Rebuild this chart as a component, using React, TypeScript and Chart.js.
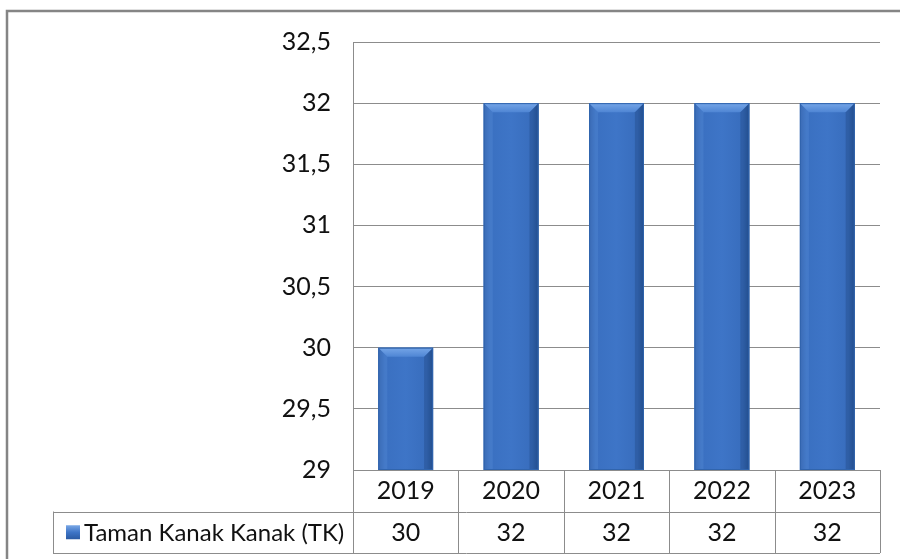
import React, { useEffect, useRef } from "react";
import { Chart, registerables } from "chart.js";

Chart.register(...registerables);

const categories = ["2019", "2020", "2021", "2022", "2023"];
const seriesName = "Taman Kanak Kanak (TK)";
const seriesValues = [30, 32, 32, 32, 32];
const tableLabels = ["30", "32", "32", "32", "32"];
const yMin = 29;
const yMax = 32.5;
const yStep = 0.5;

const FONT = "Lato, 'Open Sans', sans-serif";
const FONT_SIZE = 25;
const GRID = "#8c8c8c";

const fmt = (v: number) => String(v).replace(".", ",");

const tablePlugin = {
  id: "dataTable",
  beforeDraw(chart: any) {
    const { ctx, width, height } = chart;
    ctx.save();
    ctx.fillStyle = "#ffffff";
    ctx.fillRect(0, 0, width, height);
    ctx.strokeStyle = "#858585";
    ctx.lineWidth = 2.5;
    ctx.beginPath();
    ctx.moveTo(7, height);
    ctx.lineTo(7, 11);
    ctx.lineTo(width, 11);
    ctx.stroke();
    ctx.restore();
  },
  afterDatasetsDraw(chart: any) {
    const { ctx, chartArea } = chart;
    const meta = chart.getDatasetMeta(0);
    ctx.save();
    ctx.beginPath();
    ctx.rect(chartArea.left, chartArea.top, chartArea.right - chartArea.left, chartArea.bottom - chartArea.top);
    ctx.clip();
    meta.data.forEach((el: any) => {
      const { x, y, width } = el.getProps(["x", "y", "base", "width"], true);
      const base = chartArea.bottom;
      const l = x - width / 2;
      const r = x + width / 2;
      const h = base - y;
      const g = ctx.createLinearGradient(l, 0, r, 0);
      g.addColorStop(0, "#2a5aa3");
      g.addColorStop(0.12, "#3a70c1");
      g.addColorStop(0.5, "#3e75c7");
      g.addColorStop(0.88, "#386dbd");
      g.addColorStop(1, "#28579c");
      ctx.fillStyle = g;
      ctx.fillRect(l, y, width, h);
      const b = Math.min(9, h / 2);
      const tg = ctx.createLinearGradient(0, y, 0, y + b);
      tg.addColorStop(0, "#76a6e8");
      tg.addColorStop(1, "#4f86d4");
      ctx.fillStyle = tg;
      ctx.beginPath();
      ctx.moveTo(l, y);
      ctx.lineTo(r, y);
      ctx.lineTo(r - b, y + b);
      ctx.lineTo(l + b, y + b);
      ctx.closePath();
      ctx.fill();
      ctx.fillStyle = "rgba(90,140,215,0.35)";
      ctx.beginPath();
      ctx.moveTo(l, y);
      ctx.lineTo(l + b, y + b);
      ctx.lineTo(l + b, base);
      ctx.lineTo(l, base);
      ctx.closePath();
      ctx.fill();
      ctx.fillStyle = "rgba(20,50,100,0.25)";
      ctx.beginPath();
      ctx.moveTo(r, y);
      ctx.lineTo(r - b, y + b);
      ctx.lineTo(r - b, base);
      ctx.lineTo(r, base);
      ctx.closePath();
      ctx.fill();
      ctx.strokeStyle = "#3064ad";
      ctx.lineWidth = 1;
      ctx.strokeRect(l + 0.5, y + 0.5, width - 1, h - 1);
    });
    ctx.restore();
  },
  afterDraw(chart: any) {
    const { ctx, chartArea } = chart;
    const xs = chart.scales.x;
    const top = chartArea.bottom;
    const rowH = 41.5;
    const mid = top + rowH;
    const bot = top + rowH * 2;
    const legendLeft = 53;
    const left = chartArea.left;
    const right = chartArea.right;
    ctx.save();
    ctx.strokeStyle = GRID;
    ctx.lineWidth = 1;
    ctx.beginPath();
    ctx.moveTo(left, Math.round(top) + 0.5);
    ctx.lineTo(right, Math.round(top) + 0.5);
    ctx.moveTo(legendLeft, Math.round(mid) + 0.5);
    ctx.lineTo(right, Math.round(mid) + 0.5);
    ctx.moveTo(legendLeft, Math.round(bot) + 0.5);
    ctx.lineTo(right, Math.round(bot) + 0.5);
    ctx.moveTo(legendLeft + 0.5, mid);
    ctx.lineTo(legendLeft + 0.5, bot);
    const n = categories.length;
    const colW = (right - left) / n;
    for (let i = 0; i <= n; i++) {
      const cx = Math.round(left + colW * i) + 0.5;
      ctx.moveTo(cx, top);
      ctx.lineTo(cx, bot);
    }
    ctx.stroke();

    ctx.fillStyle = "#111111";
    ctx.font = `${FONT_SIZE}px ${FONT}`;
    ctx.textAlign = "center";
    ctx.textBaseline = "middle";
    tableLabels.forEach((t, i) => {
      ctx.fillText(t, xs.getPixelForValue(i), (mid + bot) / 2 + 1);
    });

    // legend key
    const kx = 66, ky = (mid + bot) / 2 - 7, ks = 14;
    const kg = ctx.createLinearGradient(0, ky, 0, ky + ks);
    kg.addColorStop(0, "#7aa8e6");
    kg.addColorStop(0.5, "#3e75c7");
    kg.addColorStop(1, "#2a5aa3");
    ctx.fillStyle = kg;
    ctx.fillRect(kx, ky, ks, ks);
    ctx.fillStyle = "#111111";
    ctx.textAlign = "left";
    let fs = FONT_SIZE;
    const maxW = left - 84 - 4;
    ctx.font = `${fs}px ${FONT}`;
    while (ctx.measureText(seriesName).width > maxW && fs > 10) {
      fs -= 0.5;
      ctx.font = `${fs}px ${FONT}`;
    }
    ctx.fillText(seriesName, 84, (mid + bot) / 2 + 1);
    ctx.restore();
  },
};

export default function App() {
  const ref = useRef<HTMLCanvasElement | null>(null);
  useEffect(() => {
    if (!ref.current) return;
    const chart = new Chart(ref.current, {
      type: "bar",
      data: {
        labels: categories,
        datasets: [
          {
            label: seriesName,
            data: seriesValues,
            backgroundColor: "#3b71c2",
            borderWidth: 0,
            barPercentage: 0.52,
            categoryPercentage: 1,
          },
        ],
      },
      options: {
        animation: false,
        responsive: false,
        maintainAspectRatio: false,
        layout: { padding: { top: 42, right: 20, left: 0, bottom: 0 } },
        plugins: {
          legend: { display: false },
          tooltip: { enabled: false },
          title: { display: false },
        },
        scales: {
          x: {
            grid: { display: false, drawTicks: false },
            border: { display: false },
            ticks: {
              color: "#111111",
              font: { family: FONT, size: FONT_SIZE },
              padding: 6,
              maxRotation: 0,
            },
            afterFit: (s: any) => {
              s.height = 89;
            },
          },
          y: {
            min: yMin,
            max: yMax,
            grid: { color: GRID, drawTicks: false },
            border: { display: true, color: GRID },
            ticks: {
              stepSize: yStep,
              color: "#111111",
              font: { family: FONT, size: FONT_SIZE },
              padding: 22,
              callback: (v: any) => fmt(Number(v)),
            },
            afterFit: (s: any) => {
              s.width = 353;
            },
          },
        },
      },
      plugins: [tablePlugin],
    });
    return () => chart.destroy();
  }, []);
  return (
    <div style={{ position: "fixed", left: 0, top: 0, width: 900, height: 559 }}>
      <canvas ref={ref} width={900} height={559} style={{ display: "block" }} />
    </div>
  );
}
